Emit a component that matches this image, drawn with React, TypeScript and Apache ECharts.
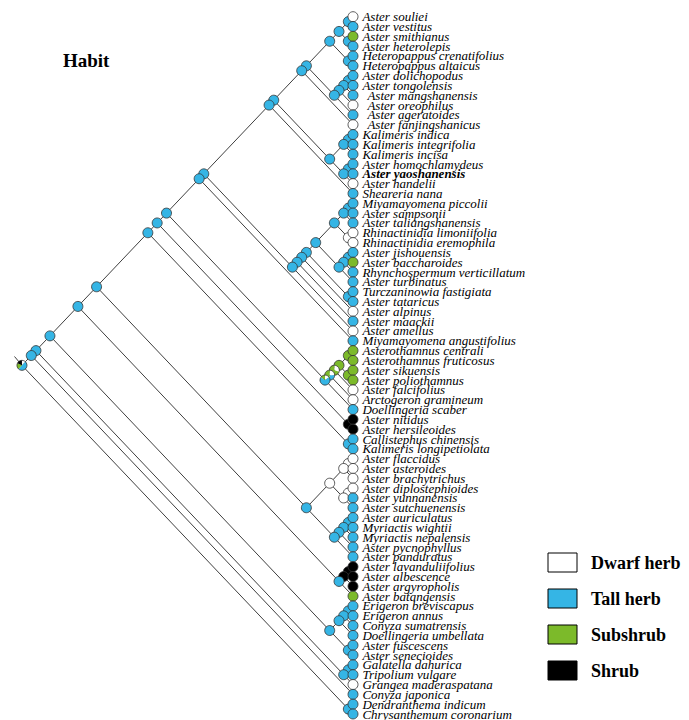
import React, { useEffect, useRef } from "react";
import * as echarts from "echarts";

const tipNames = [
  "Aster souliei", "Aster vestitus", "Aster smithianus", "Aster heterolepis",
  "Heteropappus crenatifolius", "Heteropappus altaicus", "Aster dolichopodus", "Aster tongolensis",
  "Aster mangshanensis", "Aster oreophilus", "Aster ageratoides", "Aster fanjingshanicus",
  "Kalimeris indica", "Kalimeris integrifolia", "Kalimeris incisa", "Aster homochlamydeus",
  "Aster yaoshanensis", "Aster handelii", "Sheareria nana", "Miyamayomena piccolii",
  "Aster sampsonii", "Aster taliangshanensis", "Rhinactinidia limoniifolia", "Rhinactinidia eremophila",
  "Aster jishouensis", "Aster baccharoides", "Rhynchospermum verticillatum", "Aster turbinatus",
  "Turczaninowia fastigiata", "Aster tataricus", "Aster alpinus", "Aster maackii",
  "Aster amellus", "Miyamayomena angustifolius", "Asterothamnus centrali", "Asterothamnus fruticosus",
  "Aster sikuensis", "Aster poliothamnus", "Aster falcifolius", "Arctogeron gramineum",
  "Doellingeria scaber", "Aster nitidus", "Aster hersileoides", "Callistephus chinensis",
  "Kalimeris longipetiolata", "Aster flaccidus", "Aster asteroides", "Aster brachytrichus",
  "Aster diplostephioides", "Aster yunnanensis", "Aster sutchuenensis", "Aster auriculatus",
  "Myriactis wightii", "Myriactis nepalensis", "Aster pycnophyllus", "Aster panduratus",
  "Aster lavanduliifolius", "Aster albescence", "Aster argyropholis", "Aster batangensis",
  "Erigeron breviscapus", "Erigeron annus", "Conyza sumatrensis", "Doellingeria umbellata",
  "Aster fuscescens", "Aster senecioides", "Galatella dahurica", "Tripolium vulgare",
  "Grangea maderaspatana", "Conyza japonica", "Dendranthema indicum", "Chrysanthemum coronarium",
];

// 0 = Dwarf herb, 1 = Tall herb, 2 = Subshrub, 3 = Shrub
const tipStates = [
  0, 1, 2, 1, 1, 1, 1, 1, 1, 0, 1, 0,
  1, 1, 1, 1, 1, 0, 1, 1, 1, 1, 0, 0,
  1, 2, 1, 1, 1, 1, 0, 1, 0, 1, 2, 2,
  2, 2, 0, 0, 1, 3, 3, 1, 1, 0, 0, 0,
  0, 1, 1, 1, 1, 1, 1, 1, 3, 3, 3, 2,
  1, 1, 1, 1, 1, 1, 1, 1, 0, 1, 1, 1,
];

const highlightTip = "Aster yaoshanensis";
const indentedTips = ["Aster mangshanensis", "Aster oreophilus", "Aster ageratoides", "Aster fanjingshanicus"];

const stateNames = ["Dwarf herb", "Tall herb", "Subshrub", "Shrub"];
const stateColors = ["#ffffff", "#35b5e5", "#7cba2a", "#000000"];

// topology (1-based tip numbers), composed from clades
const cl_1_6 = "(((1,2),(3,4)),(5,6))";
const cl_7_11 = "((((7,8),9),10),11)";
const cl_13_18 = "(((13,14),15),((16,17),18))";
const cl_20_28 = "((((20,21),22),(23,24)),(((25,26),27),28))";
const cl_35_41 = "(((((35,36),(37,38)),39),40),41)";
const cl_46_56 = "((((46,47),48),((49,50),51)),((((52,53),54),55),56))";
const cl_57_60 = "(((57,58),59),60)";
const cl_61_66 = "((((61,62),63),64),(65,66))";
const cl_67_69 = "((67,68),69)";
const cl_1_19 = `((((${cl_1_6},${cl_7_11}),12),${cl_13_18}),19)`;
const cl_20_33 = `((((${cl_20_28},(29,30)),31),32),33)`;
const cl_1_45 = `(((((${cl_1_19},${cl_20_33}),34),${cl_35_41}),(42,43)),(44,45))`;
const treeNewick = `((((((${cl_1_45},${cl_46_56}),${cl_57_60}),${cl_61_66}),${cl_67_69}),70),(71,72))`;

// ancestral-state pies for nodes that are not pure "Tall herb" (key: first-last tip)
const nodePies: Record<string, number[]> = {
  "1-72": [0.12, 0.5, 0.2, 0.18],
  "23-24": [1, 0, 0, 0],
  "35-41": [0.15, 0.7, 0.15, 0],
  "35-40": [0.25, 0.25, 0.5, 0],
  "35-39": [0.3, 0, 0.7, 0],
  "35-38": [0, 0, 1, 0],
  "35-36": [0, 0, 1, 0],
  "37-38": [0, 0, 1, 0],
  "42-43": [0, 0, 0, 1],
  "46-51": [1, 0, 0, 0],
  "46-48": [1, 0, 0, 0],
  "46-47": [1, 0, 0, 0],
  "49-51": [1, 0, 0, 0],
  "49-50": [1, 0, 0, 0],
  "57-59": [0, 0, 0, 1],
  "57-58": [0, 0, 0, 1],
};

type TNode = { tip: number; kids: TNode[]; lo: number; hi: number };

function parseNewick(s: string): TNode {
  let i = 0;
  const rec = (): TNode => {
    if (s[i] === "(") {
      i++;
      const kids: TNode[] = [rec()];
      while (s[i] === ",") {
        i++;
        kids.push(rec());
      }
      i++;
      const lo = Math.min(...kids.map((k) => k.lo));
      const hi = Math.max(...kids.map((k) => k.hi));
      return { tip: -1, kids, lo, hi };
    }
    const j = i;
    while (i < s.length && /[0-9]/.test(s[i])) i++;
    const t = parseInt(s.slice(j, i), 10) - 1;
    return { tip: t, kids: [], lo: t, hi: t };
  };
  return rec();
}

const hOf = (n: TNode) => (n.hi - n.lo) / 2;
const cOf = (n: TNode) => (n.lo + n.hi) / 2;

function buildData() {
  const root = parseNewick(treeNewick);
  const edges: number[][] = [];
  const nodes: number[][] = [];
  const walk = (n: TNode) => {
    if (n.tip >= 0) return;
    const key = `${n.lo + 1}-${n.hi + 1}`;
    const pie = nodePies[key] || [0, 1, 0, 0];
    nodes.push([hOf(n), cOf(n), ...pie]);
    n.kids.forEach((k) => {
      edges.push([hOf(n), cOf(n), hOf(k), cOf(k)]);
      walk(k);
    });
  };
  walk(root);
  edges.push([hOf(root), cOf(root), hOf(root) + 0.8, cOf(root) - 0.9]);
  nodes.reverse();
  return { edges, nodes };
}

export default function App() {
  const ref = useRef<HTMLDivElement>(null);
  useEffect(() => {
    if (!ref.current) return;
    const chart = echarts.init(ref.current, undefined, { renderer: "svg" });
    const { edges, nodes } = buildData();
    const R = 5;

    const legendGraphics: any[] = [];
    stateNames.forEach((nm, k) => {
      legendGraphics.push({
        type: "rect",
        shape: { x: 548, y: 553 + 36 * k, width: 29, height: 19 },
        style: { fill: stateColors[k], stroke: "#000", lineWidth: 1 },
      });
      legendGraphics.push({
        type: "text",
        x: 591,
        y: 562.5 + 36 * k,
        style: {
          text: nm,
          fill: "#000",
          fontFamily: "Liberation Serif",
          fontWeight: "bold",
          fontSize: 18,
          verticalAlign: "middle",
          textVerticalAlign: "middle",
        },
      });
    });

    const option: any = {
      animation: false,
      grid: { left: 17.3, right: 336, top: 16.7, bottom: 6 },
      xAxis: { type: "value", inverse: true, min: 0, max: 36, show: false },
      yAxis: { type: "value", inverse: true, min: 0, max: 71, show: false },
      graphic: [
        {
          type: "text",
          x: 63,
          y: 60,
          style: {
            text: "Habit",
            fill: "#000",
            fontFamily: "Liberation Serif",
            fontWeight: "bold",
            fontSize: 19,
            verticalAlign: "middle",
            textVerticalAlign: "middle",
          },
        },
        ...legendGraphics,
      ],
      series: [
        {
          type: "custom",
          z: 1,
          silent: true,
          data: edges,
          encode: { x: [0, 2], y: [1, 3] },
          renderItem: (_p: any, api: any) => {
            const a = api.coord([api.value(0), api.value(1)]);
            const b = api.coord([api.value(2), api.value(3)]);
            return {
              type: "line",
              shape: { x1: a[0], y1: a[1], x2: b[0], y2: b[1] },
              style: { stroke: "#3f3f3f", lineWidth: 1 },
            };
          },
        },
        {
          type: "custom",
          z: 2,
          silent: true,
          data: nodes,
          encode: { x: 0, y: 1 },
          renderItem: (_p: any, api: any) => {
            const p = api.coord([api.value(0), api.value(1)]);
            const fr = [api.value(2), api.value(3), api.value(4), api.value(5)];
            const nz = fr.filter((f: number) => f > 0).length;
            const children: any[] = [];
            if (nz === 1) {
              const k = fr.findIndex((f: number) => f > 0);
              children.push({
                type: "circle",
                shape: { cx: p[0], cy: p[1], r: R },
                style: { fill: stateColors[k], stroke: "#333", lineWidth: 0.8 },
              });
            } else {
              let a = -Math.PI / 2;
              fr.forEach((f: number, k: number) => {
                if (f <= 0) return;
                const e = a + f * Math.PI * 2;
                children.push({
                  type: "sector",
                  shape: { cx: p[0], cy: p[1], r0: 0, r: R, startAngle: a, endAngle: e, clockwise: true },
                  style: { fill: stateColors[k] },
                });
                a = e;
              });
              children.push({
                type: "circle",
                shape: { cx: p[0], cy: p[1], r: R },
                style: { fill: "none", stroke: "#333", lineWidth: 0.8 },
              });
            }
            return { type: "group", children };
          },
        },
        {
          type: "scatter",
          z: 3,
          silent: true,
          clip: false,
          symbol: "circle",
          symbolSize: 10,
          itemStyle: { borderColor: "#333", borderWidth: 0.8, opacity: 1 },
          label: {
            show: true,
            position: "right",
            distance: 4,
            formatter: "{b}",
            fontFamily: "Liberation Serif",
            fontStyle: "italic",
            fontSize: 13,
            color: "#000",
          },
          data: tipNames.map((n, i) => {
            const lab: any = {};
            if (n === highlightTip) lab.fontWeight = "bold";
            if (indentedTips.includes(n)) lab.distance = 9;
            return {
              name: n,
              value: [0, i],
              itemStyle: { color: stateColors[tipStates[i]] },
              label: Object.keys(lab).length ? lab : undefined,
            };
          }),
        },
      ],
    };
    chart.setOption(option);
    return () => chart.dispose();
  }, []);
  return (
    <div
      ref={ref}
      style={{ position: "absolute", left: 0, top: 0, width: 689, height: 720 }}
    />
  );
}
